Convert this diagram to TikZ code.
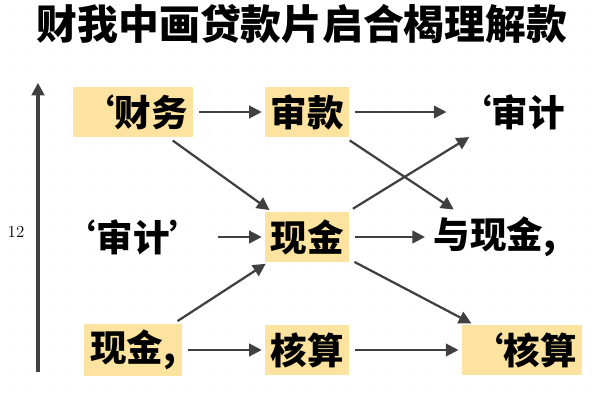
\documentclass[tikz,border=0pt]{standalone}
\usepackage{fontspec}
\newfontfamily\cjk{Noto Sans CJK SC}
\usetikzlibrary{positioning, arrows.meta}

\tikzset{
  box/.style={fill=yellow!45!orange!35, inner sep=4pt, minimum height=1.25cm, font=\cjk\bfseries\fontsize{26}{26}\selectfont},
  word/.style={inner sep=4pt, font=\cjk\bfseries\fontsize{26}{26}\selectfont},
  link/.style={-{Triangle[length=9pt,width=9pt]}, line width=1.6pt, draw=black!75, shorten <=4pt, shorten >=2pt}
}

\begin{document}
\begin{tikzpicture}[x=0.025cm, y=-0.025cm]
        \useasboundingbox (0,0) rectangle (600,400);
        % dotted grid in the back
        \foreach \gx in {10,30,...,590}
          \foreach \gy in {10,30,...,390}
            \fill[black!15] (\gx,\gy) circle (0.5pt);
        \node[font=\cjk\bfseries\fontsize{29}{29}\selectfont] (title) at (302,24) {财我中画贷款片启合楬理解款};

        \coordinate (ax0) at (38,372);
        \coordinate (ax1) at (38,80);
        \draw[link, line width=2.4pt, shorten <=0pt] (ax0) -- (ax1);
        \node[font=\large] (num) at (16,232) {12};

        \node[box] (cw) at (133,112) {‘财务};
        \node[box] (sk) at (307,112) {审款};
        \node[word] (sj1) at (510,112) {‘审计};
        \node[word] (sj2) at (133,237) {‘审计’};
        \node[box] (xj) at (307,237) {现金};
        \node[word] (yxj) at (495,237) {与现金,};
        \node[box] (xj2) at (133,350) {现金,};
        \node[box] (hs) at (307,350) {核算};
        \node[box] (hs2) at (522,350) {‘核算};

        \draw[link] (cw) -- (sk);
        \draw[link] (cw) -- (xj);
        \draw[link] (sj2) -- (xj);
        \draw[link] (xj2) -- (xj);
        \draw[link] (xj2) -- (hs);
        \draw[link] (sk) -- (sj1);
        \draw[link] (sk) -- (yxj);
        \draw[link] (xj) -- (sj1);
        \draw[link] (xj) -- (yxj);
        \draw[link] (xj) -- (hs2);
        \draw[link] (hs) -- (hs2);
\end{tikzpicture}
\end{document}
